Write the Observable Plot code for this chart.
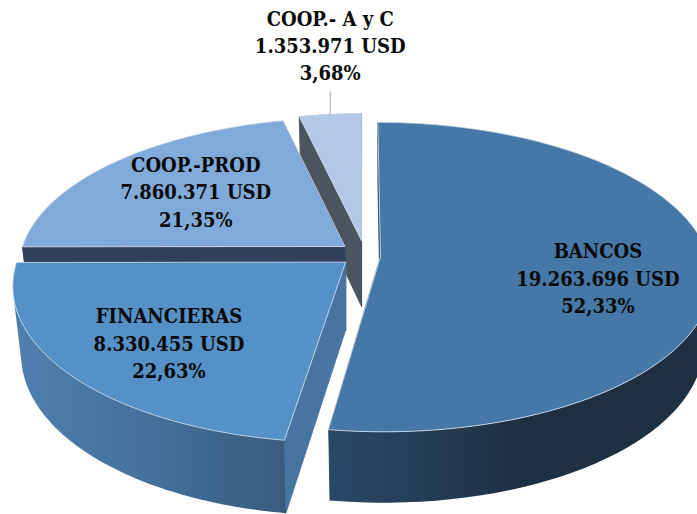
<!DOCTYPE html>
<html>
<head>
<meta charset="utf-8">
<script src="https://cdn.jsdelivr.net/npm/d3@7"></script>
<script src="https://cdn.jsdelivr.net/npm/@observablehq/plot@0.6"></script>
<style>
html,body{margin:0;padding:0;background:#fff;overflow:hidden}
svg{display:block}
</style>
</head>
<body>
<div id="chart"></div>
<script>
const categories = ["BANCOS", "FINANCIERAS", "COOP.-PROD", "COOP.- A y C"];
const amounts = [19263696, 8330455, 7860371, 1353971];
const percents = ["52,33%", "22,63%", "21,35%", "3,68%"];
const unit = "USD";

// Pie presentation: exploded 3-D slices seen in perspective
const persp = 0.133, shrink = 0.025;
const look = [
  {apex:[380,256], rx:328, tilt:152, lean:3,  depth:66, top:"#4577a7", rim:["#2b4966","#1d3042","#1e3042"], radial:"#2a4560", labelR:.66, labelDy:13},
  {apex:[345,262], rx:329, tilt:156, lean:-5, depth:68, top:"#5590c6", rim:["#4e80af","#44719c","#385c80"], radial:"#4874a2", labelR:.66, labelDy:8},
  {apex:[344,246], rx:322, tilt:146, lean:-4, depth:66, top:"#7faad9", rim:["#33415c","#33415c","#33415c"], radial:"#33415c", labelR:.625, labelDy:-2},
  {apex:[361,240], rx:307, tilt:144, lean:0,  depth:66, top:"#b4c9e5", rim:["#4b5560","#4b5560","#4b5560"], radial:"#4b5560", labelR:0, labelDy:0}
];

const total = d3.sum(amounts);
const fmt = d3.formatLocale({decimal:",", thousands:".", grouping:[3], currency:["",""]}).format(",d");
let running = 0;
const slices = categories.map((name,i)=>{
  const a0 = running/total*2*Math.PI; running += amounts[i];
  const a1 = running/total*2*Math.PI;
  return {name, i, a0, a1, mid:(a0+a1)/2, ...look[i]};
});
// z is 0 on the top face and 1 on the bottom face of a slice
function project(s, a, r=1, z=0){
  const u = Math.sin(a)*r, v = -Math.cos(a)*r, k = 1/(1-persp*v);
  return [s.apex[0]+(s.rx*u+s.lean*v)*k*(1-shrink*Math.max(z,0)), s.apex[1]+s.tilt*v*k+z*s.depth*Math.sqrt(k)];
}
const poly = pts=>pts.map(p=>({x:p[0],y:p[1]}));
const channels = {x:"x",y:"y",curve:"linear-closed"};

// back-to-front painting: the smallest slice is the farthest
const pieMarks = [...slices].reverse().flatMap(s=>{
  const n = 80;
  const A = d3.range(n+1).map(j=>s.a0+(s.a1-s.a0)*j/n);
  const upper = A.map(a=>project(s,a)), lower = A.map(a=>project(s,a,1,1));
  // slices under a half turn sweep to a convex wall, so the silhouette stays smooth
  const rimPts = s.a1-s.a0 < Math.PI ? d3.polygonHull([...upper,...lower]) : [...upper,...lower.reverse()];
  return [
    ...[s.a0,s.a1].map(a=>Plot.line(poly([project(s,a,0),project(s,a,1),project(s,a,1,1),project(s,a,0,1)]),
      {...channels,fill:s.radial,stroke:s.radial,strokeWidth:0.8})),
    Plot.line(poly(rimPts),{...channels,fill:`url(#rim${s.i})`}),
    Plot.line(poly([project(s,0,0),...A.map(a=>project(s,a))]),{...channels,fill:s.top,stroke:"#dbe6f2",strokeWidth:0.8})
  ];
});

// left-to-right colour ramps of the curved walls
const defsMark = ()=>{
  const defs = d3.create("svg:defs");
  slices.forEach(s=>{
    const g = defs.append("linearGradient").attr("id",`rim${s.i}`);
    s.rim.forEach((c,j)=>g.append("stop").attr("offset",j/(s.rim.length-1)).attr("stop-color",c));
  });
  return defs.node();
};

const labels = slices.map(s=>{
  const [x,y] = s.labelR ? project(s,s.mid,s.labelR) : project(s,s.mid);
  return {x, y:s.labelR ? y+s.labelDy : y-70,
    text:`${s.name}\n${fmt(amounts[s.i])} ${unit}\n${percents[s.i]}`};
});
const outside = slices[3];
const leader = poly([project(outside,outside.mid,1,0), project(outside,outside.mid,1,-0.36)]);

const chart = Plot.plot({
  width:697, height:514, margin:0,
  x:{domain:[0,697],range:[0,697],axis:null},
  y:{domain:[0,514],range:[0,514],axis:null},
  marks:[
    defsMark,
    ...pieMarks,
    Plot.line(leader,{x:"x",y:"y",stroke:"#a6a6a6",strokeWidth:1}),
    Plot.text(labels,{x:"x",y:"y",text:"text",fill:"#0b0b0b",fontFamily:"'DejaVu Serif Condensed','DejaVu Serif',serif",fontWeight:"bold",fontSize:20,lineHeight:1.36,lineAnchor:"middle",textAnchor:"middle"})
  ]
});
document.getElementById("chart").appendChild(chart);
</script>
</body>
</html>
